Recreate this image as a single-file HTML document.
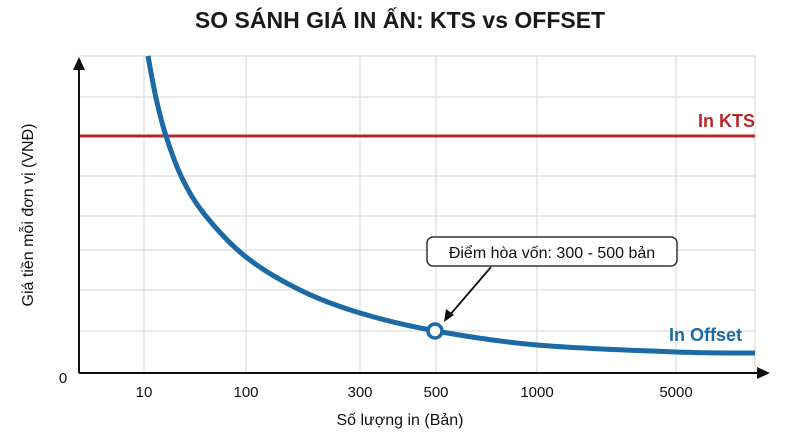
<!DOCTYPE html>
<html><head><meta charset="utf-8"><style>
body{margin:0;background:#fff;width:800px;height:436px;overflow:hidden;font-family:"Liberation Sans",sans-serif}
</style></head><body>
<svg width="800" height="436" xmlns="http://www.w3.org/2000/svg" font-family="Liberation Sans, sans-serif">
<text x="400" y="28" text-anchor="middle" font-size="23" font-weight="bold" fill="#1a1a1a">SO SÁNH GIÁ IN ẤN: KTS vs OFFSET</text>
<g stroke="#dcdcdc" stroke-width="1.2">
<line x1="79" y1="56" x2="755" y2="56"/><line x1="79" y1="97" x2="755" y2="97"/><line x1="79" y1="176" x2="755" y2="176"/><line x1="79" y1="216" x2="755" y2="216"/><line x1="79" y1="250" x2="755" y2="250"/><line x1="79" y1="290" x2="755" y2="290"/><line x1="79" y1="331" x2="755" y2="331"/>
<line x1="144" y1="56" x2="144" y2="373"/><line x1="246" y1="56" x2="246" y2="373"/><line x1="360" y1="56" x2="360" y2="373"/><line x1="436" y1="56" x2="436" y2="373"/><line x1="537" y1="56" x2="537" y2="373"/><line x1="676" y1="56" x2="676" y2="373"/><line x1="755" y1="56" x2="755" y2="373"/>
</g>
<line x1="79" y1="136" x2="755" y2="136" stroke="#b3282d" stroke-width="3"/>
<line x1="79" y1="373" x2="762" y2="373" stroke="#111" stroke-width="2"/>
<polygon points="770,373 757,367 757,379" fill="#111"/>
<line x1="79" y1="373" x2="79" y2="68" stroke="#111" stroke-width="2"/>
<polygon points="79,57 73,70 85,70" fill="#111"/>
<path id="curve" d="" fill="none" stroke="#1b6aa5" stroke-width="5"/>
<circle cx="435" cy="331" r="7" fill="#fff" stroke="#1b6aa5" stroke-width="3.5"/>
<line x1="491" y1="267" x2="449" y2="316" stroke="#111" stroke-width="1.8"/>
<polygon points="444,322 446,309 454,315" fill="#111"/>
<rect x="427" y="237" width="250" height="29" rx="6" fill="#fff" stroke="#333" stroke-width="1.5"/>
<text x="552" y="258" text-anchor="middle" font-size="16" fill="#111">Điểm hòa vốn: 300 - 500 bản</text>
<text x="755" y="127" text-anchor="end" font-size="18" font-weight="bold" fill="#b3282d">In KTS</text>
<text x="742" y="341" text-anchor="end" font-size="18" font-weight="bold" fill="#1b6aa5">In Offset</text>
<g font-size="15" fill="#111" text-anchor="middle">
<text x="63" y="383">0</text>
<text x="144" y="397">10</text><text x="246" y="397">100</text><text x="360" y="397">300</text><text x="436" y="397">500</text><text x="537" y="397">1000</text><text x="676" y="397">5000</text>
<text x="400" y="425" font-size="16">Số lượng in (Bản)</text>
<text transform="translate(33,215) rotate(-90)" font-size="16">Giá tiền mỗi đơn vị (VNĐ)</text>
</g>
</svg>
<script>
var p=[[148,56],[156,98],[166,136],[182,178],[205,215],[246,257],[300,290],[360,313],[436,331],[537,345],[676,352],[755,353]];
var d="M"+p[0][0]+","+p[0][1];
for(var i=0;i<p.length-1;i++){var a=p[i-1]||p[i],b=p[i],c=p[i+1],e=p[i+2]||c;
d+=" C"+(b[0]+(c[0]-a[0])/6)+","+(b[1]+(c[1]-a[1])/6)+" "+(c[0]-(e[0]-b[0])/6)+","+(c[1]-(e[1]-b[1])/6)+" "+c[0]+","+c[1];}
document.getElementById("curve").setAttribute("d",d);
</script>
</body></html>
